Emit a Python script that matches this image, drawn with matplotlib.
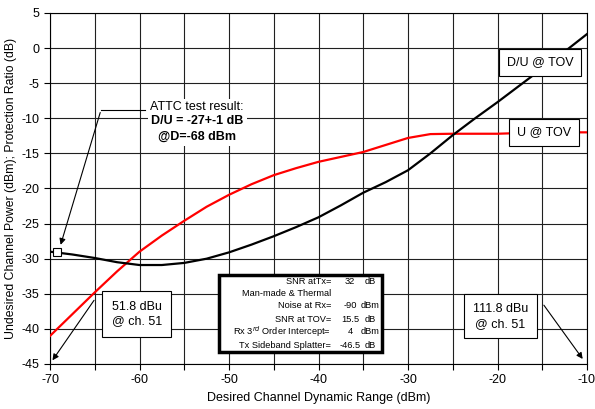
import matplotlib
matplotlib.use("Agg")
import matplotlib.pyplot as plt

plt.rcParams['font.family'] = ['Liberation Sans', 'DejaVu Sans']
plt.rcParams['axes.unicode_minus'] = False

# Data
x_dr = [-70, -67.5, -65, -62.5, -60, -57.5, -55, -52.5, -50, -47.5, -45, -42.5, -40,
        -37.5, -35, -32.5, -30, -27.5, -25, -22.5, -20, -17.5, -15, -12.5, -10]
du_tov = [-29.0, -29.4, -29.9, -30.5, -30.9, -30.9, -30.6, -30.0, -29.1, -28.0, -26.8, -25.5, -24.1,
          -22.4, -20.6, -19.1, -17.4, -15.0, -12.4, -10.0, -7.7, -5.3, -2.9, -0.5, 2.0]
u_tov = [-41.0, -37.9, -34.8, -31.8, -29.0, -26.7, -24.6, -22.6, -20.9, -19.4, -18.1, -17.1, -16.2,
         -15.5, -14.8, -13.8, -12.8, -12.25, -12.2, -12.2, -12.2, -12.1, -12.1, -12.0, -12.0]
attc_x = [-69.2]
attc_y = [-29.0]

table_labels = ["SNR atTx=", "Man-made & Thermal", "Noise at Rx=", "SNR at TOV=",
                "Rx 3$^{rd}$ Order Intercept=", "Tx Sideband Splatter="]
table_values = ["32", "", "-90", "15.5", "4", "-46.5"]
table_units = ["dB", "", "dBm", "dB", "dBm", "dB"]

fig = plt.figure(figsize=(5.95, 4.09), dpi=100)
ax = fig.add_axes([50/595, 1-364/409, 537/595, 351/409])

ax.set_xlim(-70, -10)
ax.set_ylim(-45, 5)
ax.set_xticks(range(-70, -9, 10))
ax.set_xticks(range(-65, -10, 10), minor=True)
ax.set_yticks(range(-45, 6, 5))
ax.grid(True, which='both', color='#202020', linewidth=0.8)
ax.set_axisbelow(True)
ax.tick_params(axis='both', which='both', direction='out', length=4, labelsize=9, width=0.8)
for s in ax.spines.values():
    s.set_linewidth(0.8)

ax.plot(x_dr, u_tov, color='#ff0000', linewidth=1.6, zorder=3)
ax.plot(x_dr, du_tov, color='black', linewidth=1.6, zorder=3)
ax.plot(attc_x, attc_y, marker='s', markersize=6, markerfacecolor='white',
        markeredgecolor='black', markeredgewidth=0.8, linestyle='none', zorder=4)

ax.set_xlabel("Desired Channel Dynamic Range (dBm)", fontsize=9, labelpad=4)
ax.set_ylabel("Undesired Channel Power (dBm); Protection Ratio (dB)", fontsize=8.8, labelpad=3)

box = dict(boxstyle='square,pad=0.6', facecolor='white', edgecolor='black', linewidth=0.8)

def px2x(px):
    return (px - 50) / 8.95 - 70

def py2y(py):
    return 5 - (py - 13) / 7.02

# ATTC annotation
ax.plot([-64.3, -59.4], [-8.8, -8.8], color='black', linewidth=0.8, zorder=5)
ax.annotate("", xy=(-68.9, -28.4), xytext=(-64.3, -8.8),
            arrowprops=dict(arrowstyle='-|>', color='black', lw=0.8, mutation_scale=9), zorder=5)
ax.add_patch(plt.Rectangle((px2x(148), py2y(146)), px2x(247) - px2x(148), py2y(99) - py2y(146),
                           facecolor='white', edgecolor='none', zorder=5.5))
ax.text(-53.6, py2y(107), "ATTC test result:", fontsize=9, ha='center', va='center', zorder=6)
ax.text(-53.6, py2y(121.5), "D/U = -27+-1 dB", fontsize=9, ha='center', va='center',
        fontweight='bold', zorder=6)
ax.text(-53.6, py2y(137), "@D=-68 dBm", fontsize=9, ha='center', va='center',
        fontweight='bold', zorder=6)

# 51.8 dBu box
ax.annotate("", xy=(-69.9, -44.8), xytext=(-64.9, -35.6),
            arrowprops=dict(arrowstyle='-|>', color='black', lw=0.8, mutation_scale=9), zorder=5)
ax.text(-60.3, -37.9, "51.8 dBu\n@ ch. 51", fontsize=9, ha='center', va='center',
        bbox=dict(boxstyle='square,pad=0.75', facecolor='white', edgecolor='black', linewidth=0.8),
        zorder=6, linespacing=1.3)

# 111.8 dBu box
ax.annotate("", xy=(-10.3, -44.6), xytext=(-15.0, -36.3),
            arrowprops=dict(arrowstyle='-|>', color='black', lw=0.8, mutation_scale=9), zorder=5)
ax.text(-19.7, -38.2, "111.8 dBu\n@ ch. 51", fontsize=9, ha='center', va='center',
        bbox=dict(boxstyle='square,pad=0.7', facecolor='white', edgecolor='black', linewidth=0.8),
        zorder=6, linespacing=1.3)

ax.text(-15.25, -2.0, "D/U @ TOV", fontsize=9, ha='center', va='center', bbox=box, zorder=6)
ax.text(-14.8, -12.0, "U @ TOV", fontsize=9, ha='center', va='center', bbox=box, zorder=6)

# Parameter table
tx0 = px2x(219)
tx1 = px2x(382)
ty0 = py2y(352)
ty1 = py2y(275)
rect = plt.Rectangle((tx0, ty0), tx1 - tx0, ty1 - ty0, facecolor='white',
                     edgecolor='black', linewidth=2.5, zorder=6)
ax.add_patch(rect)
row_px = [282, 294, 305, 320, 332, 345]
for lab, val, unit, py in zip(table_labels, table_values, table_units, row_px):
    yy = py2y(py)
    ax.text(px2x(331), yy, lab, fontsize=6.7, ha='right', va='center', zorder=7)
    if val:
        ax.text(px2x(350), yy, val, fontsize=6.7, ha='center', va='center', zorder=7)
    if unit:
        ax.text(px2x(370.5), yy, unit, fontsize=6.7, ha='center', va='center', zorder=7)

fig.savefig("out.png", dpi=100)
